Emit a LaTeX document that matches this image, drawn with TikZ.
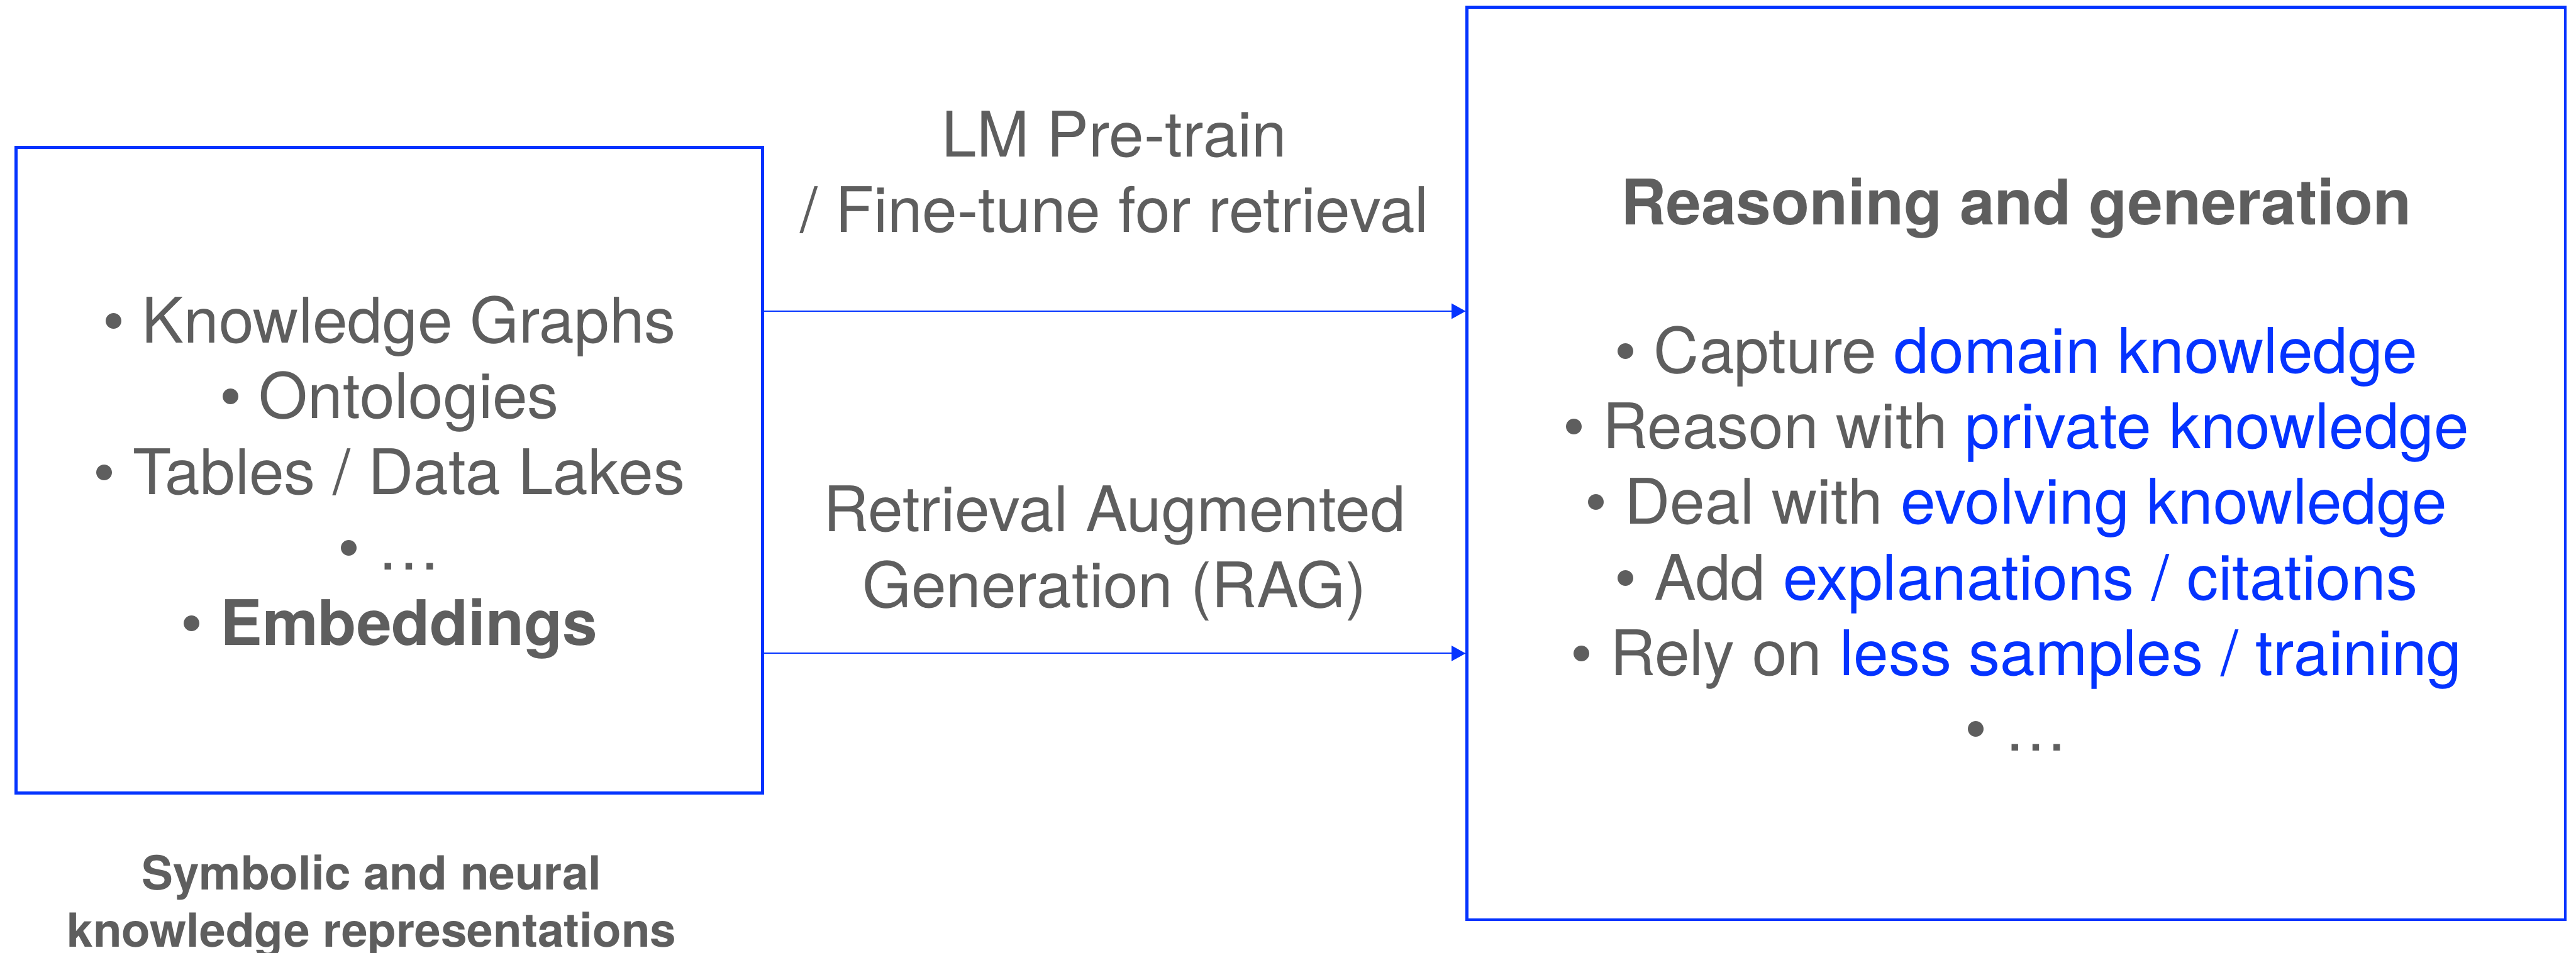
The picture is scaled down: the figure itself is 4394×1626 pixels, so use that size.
\documentclass[tikz,border=0pt]{standalone}
\usepackage{fontspec}
\setmainfont{TeX Gyre Heros}
\usetikzlibrary{arrows.meta}
\definecolor{tgray}{RGB}{94,94,94}
\definecolor{kblue}{RGB}{4,51,255}
\newcommand{\hlb}[1]{\textcolor{kblue}{#1}}
\newcommand{\bul}{\textbullet\ }
\begin{document}
\begin{tikzpicture}[x=0.01cm,y=-0.01cm,
  box/.style={draw=kblue,line width=1.42pt,inner sep=0pt,rectangle},
  txt/.style={text=tgray,align=center,font=\fontsize{30.5}{36.7}\selectfont,inner sep=0pt},
  captxt/.style={text=tgray,align=center,font=\fontsize{22.8}{27.9}\selectfont\bfseries,inner sep=0pt},
  arr/.style={draw=kblue,line width=0.6pt,-{Triangle[length=0.24cm,width=0.26cm]}}]
\useasboundingbox (0,0) rectangle (4394,1626);
\node[box,minimum width=12.72cm,minimum height=11.01cm] (lbox) at (664,802.5) {};
\node[box,minimum width=18.72cm,minimum height=15.56cm] (rbox) at (3439,791) {};
\coordinate (ya) at (0,531);
\coordinate (yb) at (0,1115);
\draw[arr] (lbox.east |- ya) -- (rbox.west |- ya);
\draw[arr] (lbox.east |- yb) -- (rbox.west |- yb);
\node[txt] (ltext) at (664,815) {\bul Knowledge Graphs\\ \bul Ontologies\\ \bul Tables / Data Lakes\\ \bul …\\ \bul\textbf{Embeddings}};
\node[txt] (lbla) at (1901,294) {LM Pre-train\\ / Fine-tune for retrieval};
\node[txt] (lblb) at (1901,944) {Retrieval Augmented\\ Generation (RAG)};
\node[txt,font=\fontsize{30.5}{36.7}\selectfont\bfseries] (rtitle) at (3439,355) {Reasoning and generation};
\node[txt] (rtext) at (3439,919) {\bul Capture \hlb{domain knowledge}\\ \bul Reason with \hlb{private knowledge}\\ \bul Deal with \hlb{evolving knowledge}\\ \bul Add \hlb{explanations / citations}\\ \bul Rely on \hlb{less samples / training}\\ \bul …};
\node[captxt] (lcap) at (634,1546) {Symbolic and neural\\ knowledge representations};
\end{tikzpicture}
\end{document}
